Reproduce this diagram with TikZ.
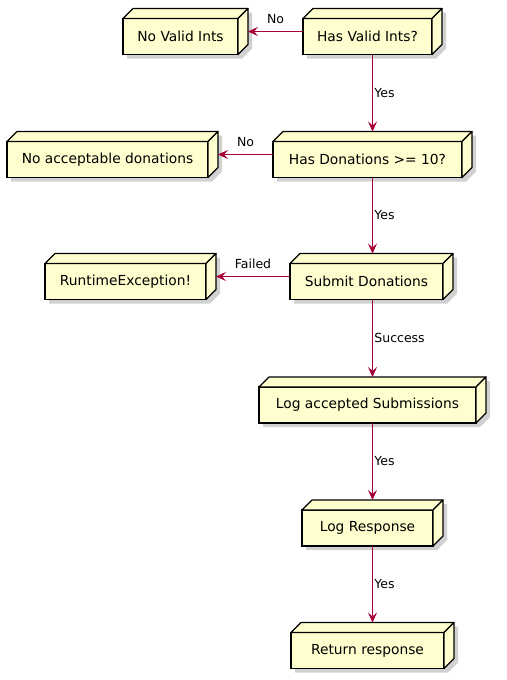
\documentclass[tikz,border=0pt]{standalone}
\usepackage{fontspec}
\setmainfont{DejaVu Sans}
\usetikzlibrary{positioning}
\usetikzlibrary{arrows.meta}
\definecolor{boxfill}{HTML}{FEFECE}
\definecolor{linkred}{HTML}{A80036}
\pgfdeclarelayer{bg}
\pgfsetlayers{bg,main}
\tikzset{
    box/.style = {rectangle, draw=black, line width=1.2pt, fill=boxfill, outer sep=0pt, minimum height=36pt, inner sep=2pt, font=\fontsize{13.8}{16}\selectfont},
    face/.style = {draw=black, line width=1.2pt, fill=boxfill, line join=round},
    boxshadow/.style = {fill=black!18},
    link/.style = {-{Stealth[length=10pt,width=9pt,inset=4pt]}, linkred, line width=0.8pt},
    linkv/.style = {font=\fontsize{12.5}{15}\selectfont, text=black, right, inner sep=1.5pt},
    linkh/.style = {font=\fontsize{12.5}{15}\selectfont, text=black, above, inner sep=2pt, yshift=5pt}
}
\begin{document}
\begin{tikzpicture}[x=1pt,y=-1pt]
  \useasboundingbox (0,0) rectangle (506,680);
  % front faces
  \node[box, minimum width=129pt] (valid) at (367.5,36.5) {Has Valid Ints?};
  \node[box, minimum width=115pt] (novalid) at (180.5,36.5) {No Valid Ints};
  \node[box, minimum width=189pt] (hasdon) at (367.5,159.5) {Has Donations >= 10?};
  \node[box, minimum width=201pt] (nodon) at (107.5,159.5) {No acceptable donations};
  \node[box, minimum width=153pt] (submit) at (366.5,281.5) {Submit Donations};
  \node[box, minimum width=161pt] (runtime) at (125.5,281.5) {RuntimeException!};
  \node[box, minimum width=217pt] (logacc) at (367.5,405) {Log accepted Submissions};
  \node[box, minimum width=131pt] (logresp) at (367.5,528) {Log Response};
  \node[box, minimum width=153pt] (ret) at (367.5,650.5) {Return response};
  % top and side faces, shadows
  \foreach \n in {valid,novalid,hasdon,nodon,submit,runtime,logacc,logresp,ret} {
    \draw[face] (\n.north west) -- ([shift={(10,-10)}]\n.north west)
      -- ([shift={(10,-10)}]\n.north east) -- (\n.north east) -- cycle;
    \draw[face] (\n.north east) -- ([shift={(10,-10)}]\n.north east)
      -- ([shift={(10,-10)}]\n.south east) -- (\n.south east) -- cycle;
    \begin{pgfonlayer}{bg}
      \fill[boxshadow] ([shift={(4,4)}]\n.south west) -- ([shift={(4,4)}]\n.north west)
        -- ([shift={(14,-6)}]\n.north west) -- ([shift={(14,-6)}]\n.north east)
        -- ([shift={(14,-6)}]\n.south east) -- ([shift={(4,4)}]\n.south east) -- cycle;
    \end{pgfonlayer}
  }
  % connectors
  \draw[link] ([yshift=5pt]valid.west) -- node[linkh] {No} ([shift={(10,-5)}]novalid.east);
  \draw[link] ([xshift=5pt]valid.south) -- node[linkv] {Yes} ([shift={(5,-10)}]hasdon.north);
  \draw[link] ([yshift=5pt]hasdon.west) -- node[linkh] {No} ([shift={(10,-5)}]nodon.east);
  \draw[link] ([xshift=5pt]hasdon.south) -- node[linkv] {Yes} ([shift={(6,-10)}]submit.north);
  \draw[link] ([yshift=5pt]submit.west) -- node[linkh] {Failed} ([shift={(10,-5)}]runtime.east);
  \draw[link] ([xshift=6pt]submit.south) -- node[linkv] {Success} ([shift={(5,-10)}]logacc.north);
  \draw[link] ([xshift=5pt]logacc.south) -- node[linkv] {Yes} ([shift={(5,-10)}]logresp.north);
  \draw[link] ([xshift=5pt]logresp.south) -- node[linkv] {Yes} ([shift={(5,-10)}]ret.north);
\end{tikzpicture}
\end{document}
